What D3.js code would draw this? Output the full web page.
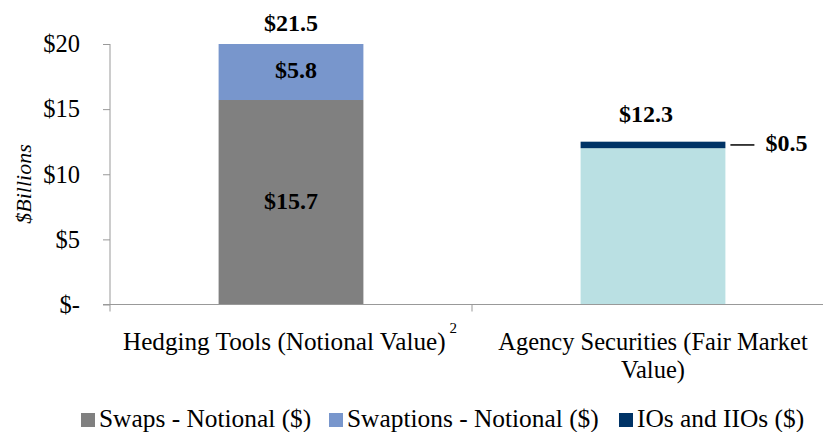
<!DOCTYPE html>
<html lang="en">
<head>
	<meta charset="utf-8">
	<title>Hedging Tools vs Agency Securities</title>
	<script src="https://d3js.org/d3.v7.min.js"></script>
	<style>
		body { margin: 0; background: #fff; }
		svg text { font-family: "Liberation Serif", "Times New Roman", serif; fill: #000; }
		.axis path, .axis line { stroke: #999; }
		.axis .tick text { font-size: 24.5px; }
	</style>
</head>
<body>
	<div id="chart"></div>
	<script>
		// data ($ billions)
		const categories = ["Hedging Tools (Notional Value)", "Agency Securities (Fair Market Value)"];
		const swaps = [15.7, 0];
		const swaptions = [5.8, 0];
		const agency = [0, 12.0];
		const iosIIOs = [0, 0.5];
		const totalLabels = ["$21.5", "$12.3"];
		const yTicks = [0, 5, 10, 15, 20];
		const yTickLabels = ["$-", "$5", "$10", "$15", "$20"];

		const width = 823;
		const height = 432;

		var svg = d3.select("#chart")
						.append("svg")
						.attr("width", width)
						.attr("height", height);

		let xscale = d3.scaleBand()
						.domain(categories)
						.range([110, 834]);
		let yscale = d3.scaleLinear()
						.domain([0, 20])
						.range([304.5, 44]);
		let barW = xscale.bandwidth() * 0.4;
		let barX = function(i) { return xscale(categories[i]) + (xscale.bandwidth() - barW) / 2; };
		let midX = function(i) { return xscale(categories[i]) + xscale.bandwidth() / 2; };

		svg.append("clipPath")
			.attr("id", "plotclip")
			.append("rect")
			.attr("x", 110).attr("y", yscale(20))
			.attr("width", 724).attr("height", yscale(0) - yscale(20));

		// stacked series, bottom to top
		const series = [
			{ values: swaps, color: "#808080" },
			{ values: swaptions, color: "#7896cc" },
			{ values: agency, color: "#bae0e3" },
			{ values: iosIIOs, color: "#003366" }
		];
		let base = [0, 0];
		let bars = svg.append("g").attr("clip-path", "url(#plotclip)");
		series.forEach(function(s) {
			let rows = s.values.map(function(d, i) { return { i: i, v: d, b: base[i] }; })
							.filter(function(r) { return r.v > 0; });
			bars.selectAll(null)
				.data(rows)
				.enter()
				.append("rect")
				.attr("x", function(r) { return barX(r.i); })
				.attr("y", function(r) { return yscale(r.b + r.v); })
				.attr("width", barW)
				.attr("height", function(r) { return yscale(r.b) - yscale(r.b + r.v); })
				.attr("fill", s.color);
			s.values.forEach(function(d, i) { base[i] += d; });
		});

		// y axis
		let y_axis = d3.axisLeft(yscale)
						.tickValues(yTicks)
						.tickSize(7)
						.tickPadding(23)
						.tickFormat(function(d, i) { return yTickLabels[i]; });
		svg.append("g")
			.attr("class", "axis")
			.attr("transform", "translate(110,0)")
			.call(y_axis)
			.call(function(g) { g.select(".domain").attr("d", "M0," + yscale(20) + "V" + yscale(0)); });

		// x axis line and category ticks
		let xg = svg.append("g").attr("class", "axis");
		xg.append("line")
			.attr("x1", 103).attr("x2", width)
			.attr("y1", yscale(0)).attr("y2", yscale(0));
		xg.selectAll("line.tk")
			.data(categories)
			.enter()
			.append("line")
			.attr("class", "tk")
			.attr("x1", function(d) { return xscale(d); })
			.attr("x2", function(d) { return xscale(d); })
			.attr("y1", yscale(0)).attr("y2", yscale(0) + 7);

		// category labels
		let lab0 = svg.append("text")
			.attr("x", midX(0) - 1).attr("y", 350)
			.attr("text-anchor", "middle")
			.style("font-size", "25.2px")
			.text("Hedging Tools (Notional Value)");
		lab0.append("tspan")
			.attr("dx", 4).attr("dy", -17)
			.style("font-size", "15px")
			.text("2");
		let lab1 = svg.append("text")
			.attr("text-anchor", "middle")
			.style("font-size", "24.5px");
		lab1.append("tspan").attr("x", midX(1)).attr("y", 350).text("Agency Securities (Fair Market");
		lab1.append("tspan").attr("x", midX(1)).attr("y", 378).text("Value)");

		// y title
		svg.append("text")
			.attr("transform", "translate(31,184) rotate(-90)")
			.attr("text-anchor", "middle")
			.style("font-size", "22px")
			.style("font-style", "italic")
			.text("$Billions");

		// value labels
		let bold = function(sel) { return sel.style("font-size", "24px").style("font-weight", "bold").attr("text-anchor", "middle"); };
		svg.append("text").call(bold)
			.attr("x", midX(0)).attr("y", 31).text(totalLabels[0]);
		svg.append("text").call(bold)
			.attr("x", midX(0) + 5).attr("y", 78).text("$" + swaptions[0].toFixed(1));
		svg.append("text").call(bold)
			.attr("x", midX(0)).attr("y", 209).text("$" + swaps[0].toFixed(1));
		svg.append("text").call(bold)
			.attr("x", midX(1) - 7).attr("y", 122).text(totalLabels[1]);
		let topY = yscale(agency[1] + iosIIOs[1] / 2);
		svg.append("line")
			.attr("x1", barX(1) + barW + 5).attr("x2", barX(1) + barW + 29)
			.attr("y1", topY).attr("y2", topY)
			.attr("stroke", "#000").attr("stroke-width", 1.5);
		svg.append("text")
			.style("font-size", "24px").style("font-weight", "bold")
			.attr("x", barX(1) + barW + 40).attr("y", topY + 6)
			.text("$" + iosIIOs[1].toFixed(1));

		// legend
		const legendNames = ["Swaps - Notional ($)", "Swaptions - Notional ($)", "IOs and IIOs ($)"];
		const legendColors = ["#808080", "#7896cc", "#003366"];
		const legendX = [81, 329, 619];
		let leg = svg.selectAll("g.leg")
			.data(legendNames)
			.enter()
			.append("g")
			.attr("class", "leg")
			.attr("transform", function(d, i) { return "translate(" + legendX[i] + ",413)"; });
		leg.append("rect")
			.attr("width", 14).attr("height", 14)
			.attr("fill", function(d, i) { return legendColors[i]; });
		leg.append("text")
			.attr("x", 18).attr("y", 14)
			.style("font-size", "25.4px")
			.text(function(d) { return d; });
	</script>
</body>
</html>
